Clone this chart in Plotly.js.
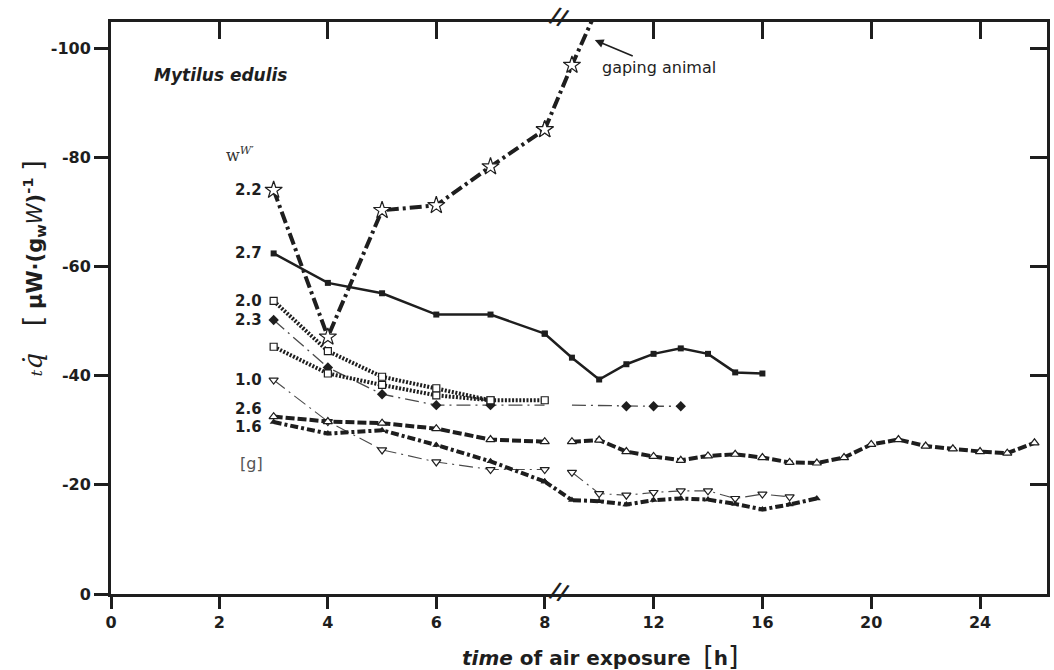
<!DOCTYPE html>
<html>
<head>
<meta charset="utf-8">
<script src="https://cdn.plot.ly/plotly-3.0.1.min.js"></script>
<style>
  html, body { margin: 0; padding: 0; background: #ffffff; }
  #chart { width: 1054px; height: 670px; }
</style>
</head>
<body>
<div id="chart"></div>
<script>
// Fresh weight of each mussel [g], in the order the series are drawn below
const weights = ['2.2', '2.7', '2.0', '2.3', '1.0', '2.6', '1.6'];

// Hours of air exposure, first period (linear 0–8 h part of the axis)
const hoursEarly = [3, 4, 5, 6, 7, 8];

// Heat dissipation q [µW per g wet weight], negative = heat given off
const q22Early = [-74.0, -47.1, -70.3, -71.2, -78.3, -85.1];
const q22LateHours = [8, 9, 10];
const q22Late = [-85.1, -96.9, -108.0];          // gaping animal, runs off the top

const q27Early = [-62.4, -57.0, -55.1, -51.2, -51.2, -47.7];
const q27LateHours = [8, 9, 10, 11, 12, 13, 14, 15, 16];
const q27Late = [-47.7, -43.3, -39.3, -42.1, -44.0, -45.0, -44.0, -40.6, -40.4];

const q20Early = [-53.7, -44.5, -39.8, -37.7, -35.5, -35.5];

const qBHours = [3, 4, 5, 6, 7];                 // second animal without weight label
const qB = [-45.3, -40.4, -38.3, -36.4, -35.5];

const q23Early = [-50.2, -41.5, -36.6, -34.6, -34.6, -34.6];
const q23LateHours = [9, 11, 12, 13];
const q23Late = [-34.6, -34.4, -34.4, -34.4];

const q10Early = [-39.2, -31.6, -26.4, -24.2, -22.8, -22.8];
const q10LateHours = [9, 10, 11, 12, 13, 14, 15, 16, 17];
const q10Late = [-22.3, -18.4, -18.1, -18.6, -18.9, -18.9, -17.5, -18.3, -17.8];

const q26Early = [-32.5, -31.6, -31.3, -30.3, -28.3, -27.9];
const q26LateHours = [9, 10, 11, 12, 13, 14, 15, 16, 17, 18, 19, 20, 21, 22, 23, 24, 25, 26];
const q26Late = [-27.9, -28.2, -26.1, -25.2, -24.5, -25.3, -25.6, -25.0, -24.1, -24.0,
                 -25.0, -27.4, -28.3, -27.1, -26.6, -26.1, -25.8, -27.7];

const q16Early = [-31.5, -29.4, -30.0, -27.3, -24.3, -20.6];
const q16LateHours = [8, 9, 10, 11, 12, 13, 14, 15, 16, 17, 18];
const q16Late = [-20.6, -17.2, -17.0, -16.4, -17.2, -17.5, -17.3, -16.5, -15.5, -16.4, -17.5];

// Axis ticks
const xTicksEarly = [0, 2, 4, 6, 8];
const xTicksLate = [12, 16, 20, 24];
const yTickVals = [0, -20, -40, -60, -80, -100];
const yTickText = ['0', '-20', '-40', '-60', '-80', '-100'];

// ---- styling -------------------------------------------------------------
const ink = '#1e1e1e';
const thinInk = '#4a4a4a';
const sans = 'DejaVu Sans';

// broken time axis: 0–8 h at 54.2 px/h, 8–26.46 h at 27.2 px/h
const earlyRange = [0, 8];
const lateRange = [8, 26.46];
const yRange = [0, -104.8];
const earlyPx = 8 * 54.2;
const latePx = (lateRange[1] - lateRange[0]) * 27.2;
const split = earlyPx / (earlyPx + latePx);

const traces = [];
// xaxis x / x3 share the 0–8 h scale (bottom / top frame), x2 / x4 the 8–26 h scale;
// y and y2 are the same heat-flow scale (left / right frame)
function add(hours, values, xaxis, yaxis, line, marker, mode) {
  const t = {
    type: 'scatter', mode: mode, x: hours, y: values,
    xaxis: xaxis, yaxis: yaxis,
    cliponaxis: false, hoverinfo: 'skip', showlegend: false
  };
  if (line) t.line = line;
  if (marker) t.marker = marker;
  traces.push(t);
}
function mk(symbol, size, filled) {
  return { symbol: symbol, size: size, color: filled ? ink : '#ffffff',
           line: { color: ink, width: filled ? 0 : 1.2 } };
}

const thinDashDot = '14px,5px,2px,5px';
const dotted = '2px,1.6px';

// 1.0 g, thin dash-dot, open down-triangles
add(hoursEarly, q10Early, 'x', 'y', { color: thinInk, width: 1.1, dash: thinDashDot },
    mk('triangle-down', 8, false), 'lines+markers');
add(q10LateHours, q10Late, 'x2', 'y', { color: thinInk, width: 1.1, dash: thinDashDot },
    mk('triangle-down', 8, false), 'lines+markers');

// 2.3 g, thin dash-dot, filled diamonds (line runs past the last measured points)
add(hoursEarly, q23Early, 'x', 'y', { color: thinInk, width: 1.3, dash: thinDashDot }, null, 'lines');
add(hoursEarly.slice(0, 5), q23Early.slice(0, 5), 'x', 'y', null, mk('diamond', 8, true), 'markers');
add(q23LateHours, q23Late, 'x2', 'y', { color: thinInk, width: 1.3, dash: thinDashDot }, null, 'lines');
add(q23LateHours.slice(1), q23Late.slice(1), 'x2', 'y', null, mk('diamond', 8, true), 'markers');

// 2.0 g and the unlabelled animal, heavy dotted lines, open squares
add(qBHours, qB, 'x', 'y', { color: ink, width: 4, dash: dotted }, mk('square', 7, false), 'lines+markers');
add(hoursEarly, q20Early, 'x', 'y', { color: ink, width: 4, dash: dotted }, mk('square', 7, false), 'lines+markers');

// 2.6 g, heavy dashes, open up-triangles
add(hoursEarly, q26Early, 'x', 'y', { color: ink, width: 4, dash: '9px,3px' },
    mk('triangle-up', 8, false), 'lines+markers');
add(q26LateHours, q26Late, 'x2', 'y2', { color: ink, width: 4, dash: '9px,3px' },
    mk('triangle-up', 8, false), 'lines+markers');

// 1.6 g, heavy dash-dot, filled up-triangles
add(hoursEarly, q16Early, 'x', 'y', { color: ink, width: 4, dash: '8px,3px,3px,3px' },
    mk('triangle-up', 7, true), 'lines+markers');
add(q16LateHours, q16Late, 'x2', 'y', { color: ink, width: 4, dash: '8px,3px,3px,3px' },
    mk('triangle-up', 7, true), 'lines+markers');

// 2.7 g, solid line, filled squares
add(hoursEarly, q27Early, 'x3', 'y', { color: ink, width: 2.5 }, mk('square', 6, true), 'lines+markers');
add(q27LateHours, q27Late, 'x4', 'y', { color: ink, width: 2.5 }, mk('square', 6, true), 'lines+markers');

// 2.2 g, heavy dash-dot, open stars
add(hoursEarly, q22Early, 'x', 'y', { color: ink, width: 4, dash: '12px,4px,3px,4px' },
    mk('star', 13, false), 'lines+markers');
add(q22LateHours, q22Late, 'x2', 'y', { color: ink, width: 4, dash: '12px,4px,3px,4px' },
    mk('star', 13, false), 'lines+markers');

// ---- axes ---------------------------------------------------------------
const tickFont = { family: sans, size: 16, color: ink, weight: 'bold' };
const frame = { showline: true, linecolor: ink, linewidth: 3, showgrid: false,
                zeroline: false, tickcolor: ink, tickwidth: 3, fixedrange: true };

const layout = {
  width: 1054, height: 670,
  margin: { l: 111, r: 7, t: 22, b: 76 },
  paper_bgcolor: '#ffffff', plot_bgcolor: '#ffffff',
  showlegend: false,
  xaxis: Object.assign({}, frame, {
    domain: [0, split], range: earlyRange, anchor: 'y',
    tickmode: 'array', tickvals: xTicksEarly, ticks: 'outside', ticklen: 12,
    tickfont: tickFont
  }),
  xaxis2: Object.assign({}, frame, {
    domain: [split, 1], range: lateRange, anchor: 'y',
    tickmode: 'array', tickvals: xTicksLate, ticks: 'outside', ticklen: 12,
    tickfont: tickFont
  }),
  xaxis3: Object.assign({}, frame, {
    domain: [0, split], range: earlyRange, anchor: 'y', overlaying: 'x', side: 'top',
    tickmode: 'array', tickvals: xTicksEarly.slice(1), ticks: 'inside', ticklen: 17,
    showticklabels: false
  }),
  xaxis4: Object.assign({}, frame, {
    domain: [split, 1], range: lateRange, anchor: 'y', overlaying: 'x2', side: 'top',
    tickmode: 'array', tickvals: xTicksLate, ticks: 'inside', ticklen: 17,
    showticklabels: false
  }),
  yaxis: Object.assign({}, frame, {
    domain: [0, 1], range: yRange, anchor: 'x',
    tickmode: 'array', tickvals: yTickVals, ticktext: yTickText,
    ticks: 'outside', ticklen: 14, tickfont: tickFont
  }),
  yaxis2: Object.assign({}, frame, {
    range: yRange, anchor: 'x2', overlaying: 'y', side: 'right',
    tickmode: 'array', tickvals: yTickVals.slice(1), ticks: 'inside', ticklen: 17,
    showticklabels: false
  }),
  annotations: []
};

const ann = layout.annotations;

// weight labels beside the first point of each series
const firstValues = [q22Early[0], q27Early[0], q20Early[0], q23Early[0], q10Early[0], q26Early[0], q16Early[0]];
const labelShift = [0, 0, 0, 0, 0, 8, -5];
weights.forEach(function (w, i) {
  ann.push({ xref: 'x', yref: 'y', x: 2.82, y: firstValues[i], text: '<b>' + w + '</b>',
             showarrow: false, xanchor: 'right', yanchor: 'middle', yshift: labelShift[i],
             font: { family: sans, size: 15, color: ink } });
});

// header and unit of the weight labels
ann.push({ xref: 'x', yref: 'y', x: 2.38, y: -80.6, xanchor: 'center', yanchor: 'middle',
           showarrow: false, text: 'w<sup><i>W</i>′</sup>',
           font: { family: 'DejaVu Serif', size: 16, color: '#333' } });
ann.push({ xref: 'x', yref: 'y', x: 2.6, y: -24.0, xanchor: 'center', yanchor: 'middle',
           showarrow: false, text: '[g]', font: { family: sans, size: 16, color: '#555' } });

// species name
ann.push({ xref: 'x', yref: 'y', x: 0.76, y: -95.0, xanchor: 'left', yanchor: 'middle',
           showarrow: false, text: '<b><i>Mytilus edulis</i></b>',
           font: { family: sans, size: 17, color: ink } });

// gaping animal note with arrow
ann.push({ xref: 'x2', yref: 'y', x: 9.84, y: -101.5, ax: 64, ay: 27,
           text: 'gaping animal', showarrow: true, arrowhead: 2, arrowsize: 1.1,
           arrowwidth: 1.6, arrowcolor: ink,
           font: { family: sans, size: 16, color: ink } });

// axis break marks
[1.009, 0.0035].forEach(function (yp) {
  ann.push({ xref: 'x2', yref: 'paper', x: 8.55, y: yp, xanchor: 'center', yanchor: 'middle',
             showarrow: false, text: '<b>//</b>', textangle: 18,
             font: { family: sans, size: 22, color: ink } });
});

// axis titles
ann.push({ xref: 'paper', yref: 'paper', x: (600 - 111) / 936, y: (594 - 655) / 572,
           xanchor: 'center', yanchor: 'middle', showarrow: false,
           text: '<b><i>time</i> of air exposure</b>  <span style="font-size:27px">[</span><b>h</b><span style="font-size:27px">]</span>',
           font: { family: sans, size: 20, color: ink } });
ann.push({ xref: 'paper', yref: 'paper', x: (33 - 111) / 936, y: (594 - 268) / 572,
           xanchor: 'center', yanchor: 'middle', showarrow: false, textangle: -90,
           text: '<span style="font-family:\'DejaVu Serif\';font-size:26px"><i>ₜq̇</i></span>    <span style="font-size:27px">[</span> <b>μW·(g<sub>w</sub></b><i>W</i><b>)<sup>-1</sup></b> <span style="font-size:27px">]</span>',
           font: { family: sans, size: 21, color: ink } });

Plotly.newPlot('chart', traces, layout, { staticPlot: true, displayModeBar: false });
</script>
</body>
</html>
